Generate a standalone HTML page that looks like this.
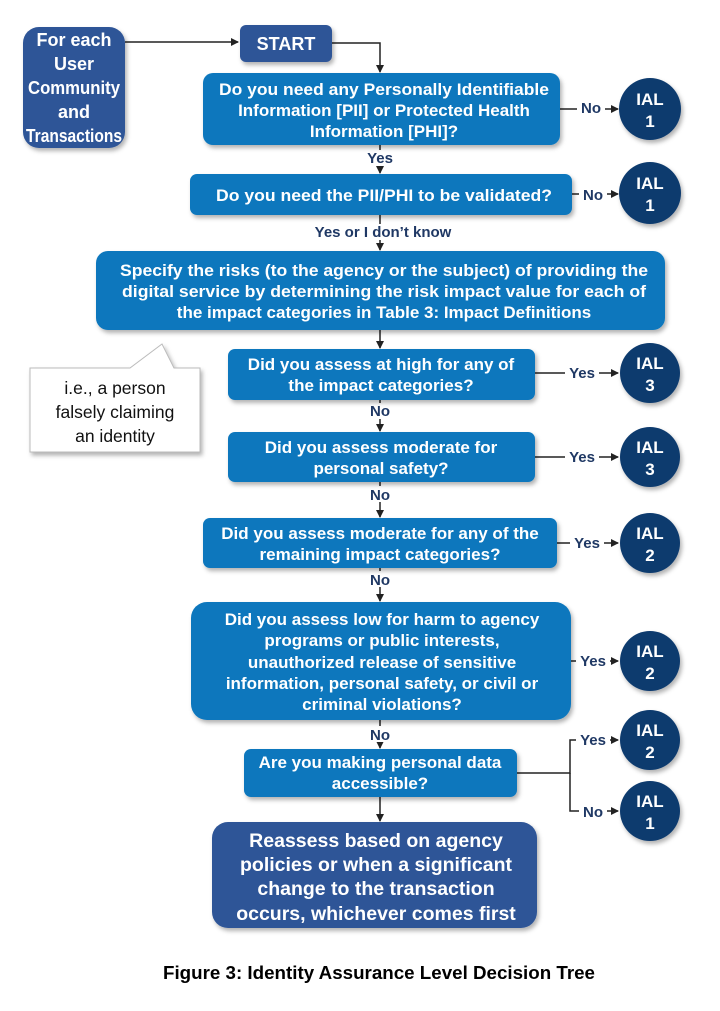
<!DOCTYPE html>
<html><head><meta charset="utf-8"><style>
html,body{margin:0;padding:0;background:#fff;}
svg{display:block;}
.w{font-family:"Liberation Sans",sans-serif;font-weight:bold;fill:#fff;text-anchor:middle;}
.l{font-family:"Liberation Sans",sans-serif;font-weight:bold;fill:#1f3864;font-size:15px;text-anchor:middle;}
.ln{stroke:#222;stroke-width:1.5;fill:none;}
</style></head><body>
<svg width="720" height="1011" viewBox="0 0 720 1011" xmlns="http://www.w3.org/2000/svg">
<defs>
<marker id="a" markerWidth="8" markerHeight="8" refX="7" refY="4" orient="auto" markerUnits="userSpaceOnUse"><path d="M0,0 L8,4 L0,8 z" fill="#222"/></marker>
<filter id="s" x="-10%" y="-10%" width="130%" height="140%"><feDropShadow dx="2" dy="3" stdDeviation="2" flood-color="#000" flood-opacity="0.3"/></filter>
</defs>

<path class="ln" d="M125,42 H238" marker-end="url(#a)"/>
<path class="ln" d="M332,43 H380 V72" marker-end="url(#a)"/>
<path class="ln" d="M380,145 V173" marker-end="url(#a)"/>
<path class="ln" d="M380,215 V250" marker-end="url(#a)"/>
<path class="ln" d="M380,330 V348" marker-end="url(#a)"/>
<path class="ln" d="M380,400 V431" marker-end="url(#a)"/>
<path class="ln" d="M380,482 V517" marker-end="url(#a)"/>
<path class="ln" d="M380,568 V601" marker-end="url(#a)"/>
<path class="ln" d="M380,720 V748" marker-end="url(#a)"/>
<path class="ln" d="M380,797 V821" marker-end="url(#a)"/>
<path class="ln" d="M560,109 H618" marker-end="url(#a)"/>
<path class="ln" d="M572,194 H618" marker-end="url(#a)"/>
<path class="ln" d="M535,373 H618" marker-end="url(#a)"/>
<path class="ln" d="M535,457 H618" marker-end="url(#a)"/>
<path class="ln" d="M557,543 H618" marker-end="url(#a)"/>
<path class="ln" d="M571,661 H618" marker-end="url(#a)"/>
<path class="ln" d="M517,773 H570 V740 H618" marker-end="url(#a)"/>
<path class="ln" d="M570,773 V811 H618" marker-end="url(#a)"/>

<g>
<rect x="577" y="98" width="28" height="18" fill="#fff"/><text class="l" x="591" y="113">No</text>
<rect x="579" y="184" width="28" height="18" fill="#fff"/><text class="l" x="593" y="200">No</text>
<rect x="364" y="150" width="32" height="16" fill="#fff"/><text class="l" x="380" y="163">Yes</text>
<rect x="308" y="224" width="150" height="16" fill="#fff"/><text class="l" x="383" y="237">Yes or I don’t know</text>
<rect x="565" y="364" width="34" height="18" fill="#fff"/><text class="l" x="582" y="378">Yes</text>
<rect x="565" y="448" width="34" height="18" fill="#fff"/><text class="l" x="582" y="462">Yes</text>
<rect x="570" y="534" width="34" height="18" fill="#fff"/><text class="l" x="587" y="548">Yes</text>
<rect x="576" y="652" width="34" height="18" fill="#fff"/><text class="l" x="593" y="666">Yes</text>
<rect x="576" y="731" width="34" height="18" fill="#fff"/><text class="l" x="593" y="745">Yes</text>
<rect x="579" y="802" width="28" height="18" fill="#fff"/><text class="l" x="593" y="817">No</text>
<rect x="366" y="403" width="28" height="16" fill="#fff"/><text class="l" x="380" y="416">No</text>
<rect x="366" y="486" width="28" height="16" fill="#fff"/><text class="l" x="380" y="500">No</text>
<rect x="366" y="571" width="28" height="16" fill="#fff"/><text class="l" x="380" y="585">No</text>
<rect x="366" y="726" width="28" height="16" fill="#fff"/><text class="l" x="380" y="740">No</text>
</g>

<g filter="url(#s)">
<rect x="23" y="27" width="102" height="121" rx="16" fill="#2f5597"/>
<rect x="240" y="25" width="92" height="37" rx="6" fill="#2f5597"/>
<rect x="212" y="822" width="325" height="106" rx="16" fill="#2f5597"/>
</g>
<text class="w" font-size="18"><tspan x="74" y="46">For each</tspan><tspan x="74" y="70">User</tspan><tspan x="74" y="94" textLength="92" lengthAdjust="spacingAndGlyphs">Community</tspan><tspan x="74" y="118">and</tspan><tspan x="74" y="142" textLength="96" lengthAdjust="spacingAndGlyphs">Transactions</tspan></text>
<text class="w" font-size="18" x="286" y="50">START</text>
<text class="w" font-size="19.5"><tspan x="376" y="847">Reassess based on agency</tspan><tspan x="376" y="871">policies or when a significant</tspan><tspan x="376" y="895">change to the transaction</tspan><tspan x="376" y="920">occurs, whichever comes first</tspan></text>

<g filter="url(#s)" fill="#0a77bd">
<rect x="203" y="73" width="357" height="72" rx="10"/>
<rect x="190" y="174" width="382" height="41" rx="7"/>
<rect x="96" y="251" width="569" height="79" rx="12"/>
<rect x="228" y="349" width="307" height="51" rx="7"/>
<rect x="228" y="432" width="307" height="50" rx="7"/>
<rect x="203" y="518" width="354" height="50" rx="7"/>
<rect x="191" y="602" width="380" height="118" rx="16"/>
<rect x="244" y="749" width="273" height="48" rx="7"/>
</g>
<g class="w" font-size="17">
<text><tspan x="384" y="95" textLength="330" lengthAdjust="spacingAndGlyphs">Do you need any Personally Identifiable</tspan><tspan x="384" y="116">Information [PII] or Protected Health</tspan><tspan x="384" y="137">Information [PHI]?</tspan></text>
<text x="384" y="201" textLength="336" lengthAdjust="spacingAndGlyphs">Do you need the PII/PHI to be validated?</text>
<text><tspan x="384" y="276" textLength="528" lengthAdjust="spacingAndGlyphs">Specify the risks (to the agency or the subject) of providing the</tspan><tspan x="384" y="297" textLength="524" lengthAdjust="spacingAndGlyphs">digital service by determining the risk impact value for each of</tspan><tspan x="384" y="318">the impact categories in Table 3: Impact Definitions</tspan></text>
<text><tspan x="381" y="370">Did you assess at high for any of</tspan><tspan x="381" y="391">the impact categories?</tspan></text>
<text><tspan x="381" y="453">Did you assess moderate for</tspan><tspan x="381" y="474">personal safety?</tspan></text>
<text><tspan x="380" y="539">Did you assess moderate for any of the</tspan><tspan x="380" y="560">remaining impact categories?</tspan></text>
<text><tspan x="382" y="625">Did you assess low for harm to agency</tspan><tspan x="382" y="646">programs or public interests,</tspan><tspan x="382" y="668">unauthorized release of sensitive</tspan><tspan x="382" y="689">information, personal safety, or civil or</tspan><tspan x="382" y="710">criminal violations?</tspan></text>
<text><tspan x="380" y="768">Are you making personal data</tspan><tspan x="380" y="789">accessible?</tspan></text>
</g>

<g filter="url(#s)" fill="#0d3a6e">
<circle cx="650" cy="109" r="31"/>
<circle cx="650" cy="193" r="31"/>
<circle cx="650" cy="373" r="30"/>
<circle cx="650" cy="457" r="30"/>
<circle cx="650" cy="543" r="30"/>
<circle cx="650" cy="661" r="30"/>
<circle cx="650" cy="740" r="30"/>
<circle cx="650" cy="811" r="30"/>
</g>
<g class="w" font-size="17">
<text><tspan x="650" y="105">IAL</tspan><tspan x="650" y="127">1</tspan></text>
<text><tspan x="650" y="189">IAL</tspan><tspan x="650" y="211">1</tspan></text>
<text><tspan x="650" y="369">IAL</tspan><tspan x="650" y="391">3</tspan></text>
<text><tspan x="650" y="453">IAL</tspan><tspan x="650" y="475">3</tspan></text>
<text><tspan x="650" y="539">IAL</tspan><tspan x="650" y="561">2</tspan></text>
<text><tspan x="650" y="657">IAL</tspan><tspan x="650" y="679">2</tspan></text>
<text><tspan x="650" y="736">IAL</tspan><tspan x="650" y="758">2</tspan></text>
<text><tspan x="650" y="807">IAL</tspan><tspan x="650" y="829">1</tspan></text>
</g>

<path d="M30,368 H130 L162,344 L174,368 H200 V452 H30 Z" fill="#fff" stroke="#bbb" stroke-width="1" filter="url(#s)"/>
<text font-family="Liberation Sans,sans-serif" font-size="17.5" fill="#111" text-anchor="middle"><tspan x="115" y="394">i.e., a person</tspan><tspan x="115" y="418">falsely claiming</tspan><tspan x="115" y="442">an identity</tspan></text>

<text font-family="Liberation Sans,sans-serif" font-weight="bold" font-size="18.5" fill="#000" text-anchor="middle" x="379" y="979" textLength="432" lengthAdjust="spacingAndGlyphs">Figure 3: Identity Assurance Level Decision Tree</text>
</svg>
</body></html>
